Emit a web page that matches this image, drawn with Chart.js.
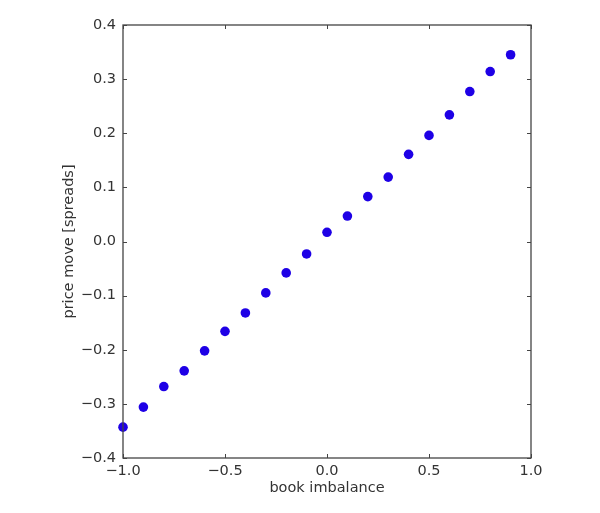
<!DOCTYPE html>
<html>
<head>
<meta charset="utf-8">
<script src="https://cdn.jsdelivr.net/npm/chart.js@4/dist/chart.umd.min.js"></script>
<style>
  html, body { margin: 0; padding: 0; background: #fff; }
  #wrap { width: 600px; height: 513px; }
</style>
</head>
<body>
<div id="wrap"><canvas id="chart"></canvas></div>
<script>
// book imbalance buckets and the mean price move
const imbalance = [-1.0, -0.9, -0.8, -0.7, -0.6, -0.5, -0.4, -0.3, -0.2, -0.1,
  0.0, 0.1, 0.2, 0.3, 0.4, 0.5, 0.6, 0.7, 0.8, 0.9]
const priceMove = [-0.343, -0.306, -0.268, -0.239, -0.202, -0.166, -0.132, -0.095, -0.058, -0.023,
  0.017, 0.047, 0.083, 0.119, 0.161, 0.196, 0.234, 0.277, 0.314, 0.345]

const xTicks = [-1.0, -0.5, 0.0, 0.5, 1.0]
const yTicks = [-0.4, -0.3, -0.2, -0.1, 0.0, 0.1, 0.2, 0.3, 0.4]

const fmt = (v) => {
  const s = Math.abs(v) < 1e-9 ? '0.0' : v.toFixed(1)
  return s.replace('-', '\u2212')
}

// matplotlib style: inward ticks on all four sides and a plain frame
const frameTicks = {
  id: 'frameTicks',
  afterDraw(chart) {
    const {ctx, chartArea: a, scales} = chart
    ctx.save()
    ctx.strokeStyle = '#444'
    ctx.lineWidth = 1
    ctx.beginPath()
    xTicks.forEach((v) => {
      const px = Math.round(scales.x.getPixelForValue(v)) + 0.5
      ctx.moveTo(px, a.bottom); ctx.lineTo(px, a.bottom - 4)
      ctx.moveTo(px, a.top); ctx.lineTo(px, a.top + 4)
    })
    yTicks.forEach((v) => {
      const py = Math.round(scales.y.getPixelForValue(v)) + 0.5
      ctx.moveTo(a.left, py); ctx.lineTo(a.left + 4, py)
      ctx.moveTo(a.right, py); ctx.lineTo(a.right - 4, py)
    })
    ctx.stroke()
    ctx.lineWidth = 1.3
    ctx.strokeRect(a.left, a.top, a.right - a.left, a.bottom - a.top)
    ctx.restore()
  }
}

const font = {family: 'DejaVu Sans', size: 14.5}

new Chart(document.getElementById('chart'), {
  type: 'scatter',
  data: {
    datasets: [{
      data: imbalance.map((x, i) => ({x: x, y: priceMove[i]})),
      backgroundColor: '#1e00e6',
      borderWidth: 0,
      pointRadius: 4.8,
      pointHoverRadius: 4.8,
      clip: false,
    }]
  },
  options: {
    responsive: true,
    maintainAspectRatio: false,
    animation: false,
    layout: {padding: {top: 25, right: 69, left: 61, bottom: 16}},
    plugins: {legend: {display: false}, tooltip: {enabled: false}},
    scales: {
      x: {
        type: 'linear',
        min: -1, max: 1,
        afterBuildTicks: (s) => { s.ticks = xTicks.map((v) => ({value: v})) },
        afterFit: (s) => { s.height = 39 },
        grid: {display: false, drawTicks: false},
        border: {display: false},
        ticks: {font: font, color: '#333', padding: 5, maxRotation: 0, callback: fmt},
        title: {display: true, text: 'book imbalance', font: font, color: '#333', padding: 0},
      },
      y: {
        type: 'linear',
        min: -0.4, max: 0.4,
        afterBuildTicks: (s) => { s.ticks = yTicks.map((v) => ({value: v})) },
        afterFit: (s) => { s.width = 62 },
        grid: {display: false, drawTicks: false},
        border: {display: false},
        ticks: {font: font, color: '#333', padding: 7, callback: fmt},
        title: {display: true, text: 'price move [spreads]', font: font, color: '#333', padding: 0},
      }
    }
  },
  plugins: [frameTicks]
})
</script>
</body>
</html>
